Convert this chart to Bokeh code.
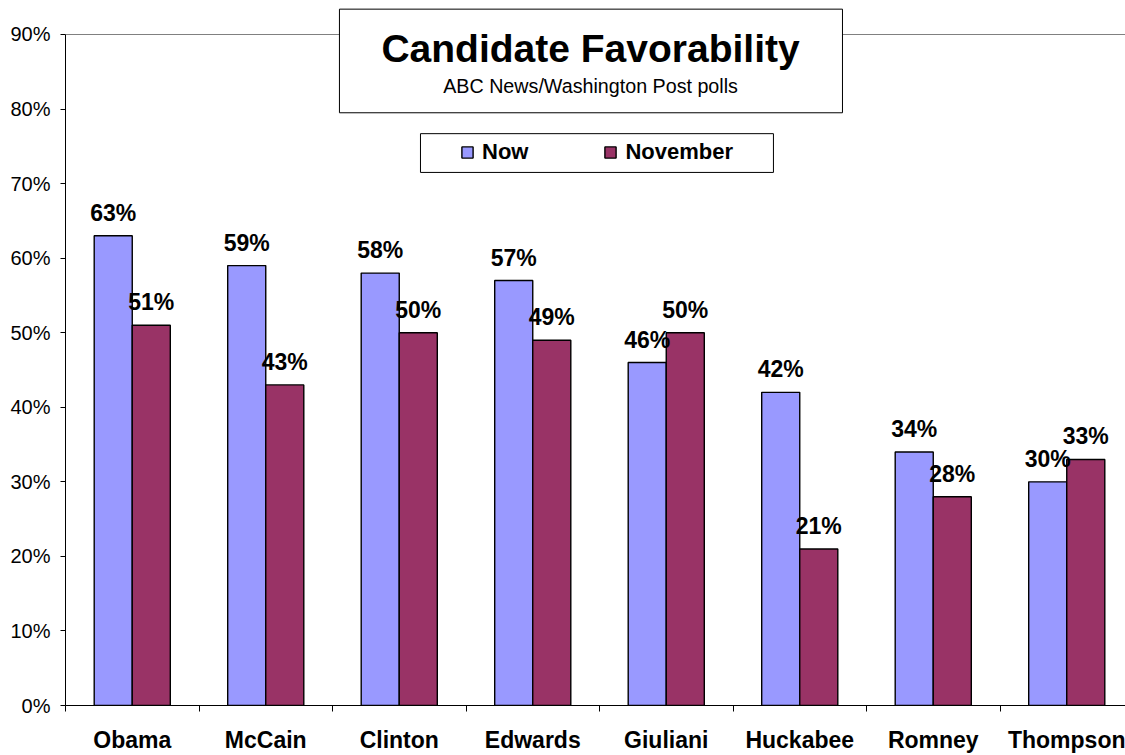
import numpy as np
from bokeh.plotting import figure
from bokeh.models import (ColumnDataSource, Range1d, FixedTicker, NumeralTickFormatter,
                          BoxAnnotation, Label, Legend, LegendItem)
from bokeh.core.properties import value
from bokeh.embed import file_html
from bokeh.resources import INLINE

candidates = ["Obama", "McCain", "Clinton", "Edwards", "Giuliani", "Huckabee", "Romney", "Thompson"]
now_vals = [0.63, 0.59, 0.58, 0.57, 0.46, 0.42, 0.34, 0.30]
nov_vals = [0.51, 0.43, 0.50, 0.49, 0.50, 0.21, 0.28, 0.33]
series_names = ["Now", "November"]
series_colors = ["#9999FF", "#993366"]
y_ticks = [0.0, 0.1, 0.2, 0.3, 0.4, 0.5, 0.6, 0.7, 0.8, 0.9]

FONT = "Liberation Sans"
BAR_W = 0.285

idx = np.arange(len(candidates))
src_now = ColumnDataSource(dict(x=idx + 0.5 - BAR_W / 2, y=now_vals,
                                lab=[f"{round(v*100)}%" for v in now_vals]))
src_nov = ColumnDataSource(dict(x=idx + 0.5 + BAR_W / 2, y=nov_vals,
                                lab=[f"{round(v*100)}%" for v in nov_vals]))

p = figure(width=1125, height=755, output_backend="svg", toolbar_location=None,
           x_range=Range1d(0, 1060 / 133.5), y_range=Range1d(0, 0.9456),
           min_border_left=65, min_border_right=0, min_border_top=0, min_border_bottom=50)
p.outline_line_color = None
p.background_fill_color = "white"
p.border_fill_color = "white"

# grid: only the 90% top line, grey
p.xgrid.visible = False
p.ygrid.ticker = FixedTicker(ticks=[0.9])
p.ygrid.grid_line_color = "#808080"
p.ygrid.grid_line_width = 1

r_now = p.vbar(x="x", top="y", width=BAR_W, source=src_now, fill_color=series_colors[0],
               line_color="black", line_width=1.4)
r_nov = p.vbar(x="x", top="y", width=BAR_W, source=src_nov, fill_color=series_colors[1],
               line_color="black", line_width=1.4)

for src in (src_now, src_nov):
    p.text(x="x", y="y", text="lab", source=src, text_align="center",
           text_baseline="alphabetic", y_offset=-23,
           text_font=value(FONT), text_font_style="bold", text_font_size="23px",
           text_color="black")

# y axis
p.yaxis.ticker = FixedTicker(ticks=y_ticks)
p.yaxis.formatter = NumeralTickFormatter(format="0%")
p.yaxis.bounds = (0, 0.9)
p.yaxis.axis_line_color = "black"
p.yaxis.major_tick_line_color = "black"
p.yaxis.major_tick_out = 5
p.yaxis.major_tick_in = 0
p.yaxis.minor_tick_line_color = None
p.yaxis.major_label_standoff = 10
p.yaxis.major_label_text_font = FONT
p.yaxis.major_label_text_font_size = "20px"
p.yaxis.major_label_text_color = "black"

# x axis
p.xaxis.ticker = FixedTicker(ticks=list(idx + 0.5), minor_ticks=list(range(len(candidates) + 1)))
p.xaxis.major_label_overrides = {float(i + 0.5): c for i, c in enumerate(candidates)}
p.xaxis.axis_line_color = "black"
p.xaxis.major_tick_line_color = None
p.xaxis.major_tick_out = 0
p.xaxis.major_tick_in = 0
p.xaxis.minor_tick_line_color = "black"
p.xaxis.minor_tick_out = 6
p.xaxis.minor_tick_in = 0
p.xaxis.major_label_standoff = 15
p.xaxis.major_label_text_font = FONT
p.xaxis.major_label_text_font_style = "bold"
p.xaxis.major_label_text_font_size = "23px"
p.xaxis.major_label_text_color = "black"

# title box
p.add_layout(BoxAnnotation(left=2.052, right=5.820, bottom=0.795, top=0.934,
                           fill_color="white", fill_alpha=1.0,
                           line_color="black", line_alpha=1.0, line_width=1))
p.add_layout(Label(x=3.933, y=0.881, text="Candidate Favorability", text_align="center",
                   text_baseline="alphabetic", text_font=FONT, text_font_style="bold",
                   text_font_size="39px", text_color="black"))
p.add_layout(Label(x=3.933, y=0.831, text="ABC News/Washington Post polls", text_align="center",
                   text_baseline="alphabetic", text_font=FONT, text_font_size="19.7px",
                   text_color="black"))

# legend box
p.add_layout(BoxAnnotation(left=2.659, right=5.303, bottom=0.715, top=0.767,
                           fill_color="white", fill_alpha=1.0,
                           line_color="black", line_alpha=1.0, line_width=1))
legend = Legend(items=[LegendItem(label=series_names[0], renderers=[r_now]),
                       LegendItem(label=series_names[1], renderers=[r_nov])],
                location=(388, 533), orientation="horizontal",
                glyph_width=14, glyph_height=14, label_standoff=8, spacing=75, padding=7,
                border_line_alpha=0, background_fill_alpha=0,
                label_text_font=FONT, label_text_font_style="bold",
                label_text_font_size="22px", label_text_color="black")
p.add_layout(legend)

open("out.html", "w").write(file_html(p, INLINE))
